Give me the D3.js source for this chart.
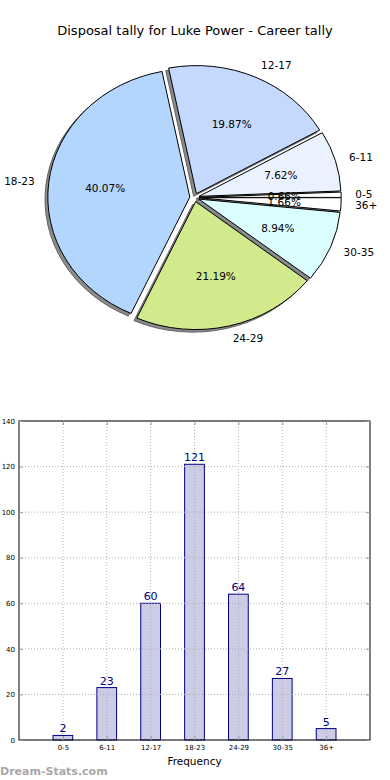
<!DOCTYPE html>
<html><head><meta charset="utf-8">
<script src="https://cdn.jsdelivr.net/npm/d3@7"></script>
<style>body{margin:0;background:#fff}svg{display:block;font-family:"DejaVu Sans",sans-serif}</style>
</head><body><svg id="c" width="390" height="780"></svg>
<script>
const categories=["0-5","6-11","12-17","18-23","24-29","30-35","36+"];
const frequencies=[2,23,60,121,64,27,5];
const sliceColors=["#ffffff","#eaf1ff","#c5d9ff","#b3d6ff","#d0ea8c","#dbffff","#ffffff"];
const yTicks=[0,20,40,60,80,100,120,140];
const title="Disposal tally for Luke Power - Career tally";
const xLabel="Frequency";
const watermark="Dream-Stats.com";

const svg=d3.select("#c");
const total=d3.sum(frequencies);
const data=categories.map((c,i)=>({cat:c,v:frequencies[i],color:sliceColors[i]}));

// Title
svg.append("text").attr("x",195).attr("y",30).attr("text-anchor","middle")
  .attr("dominant-baseline","central").attr("font-size",13).attr("fill","#000").text(title);

// Pie (elliptical, as in the reference)
const cx=194.5, cy=197.5, rx=142, ry=128, explode=0.033;
const pie=d3.pie().sort(null).value(d=>d.v).startAngle(Math.PI/2).endAngle(Math.PI/2-2*Math.PI);
const arcs=pie(data);
const arc=d3.arc().innerRadius(0).outerRadius(1);
const mid=d=>(d.startAngle+d.endAngle)/2;
const gp=svg.append("g");
// shadows
gp.selectAll("path.sh").data(arcs).enter().append("path").attr("class","sh")
  .attr("d",arc)
  .attr("transform",d=>{const a=mid(d);return `translate(${cx+explode*rx*Math.sin(a)-0.02*rx},${cy-explode*ry*Math.cos(a)+0.02*ry}) scale(${rx},${ry})`;})
  .attr("fill","#8a8a8a").attr("stroke","#666").attr("stroke-width",1)
  .attr("vector-effect","non-scaling-stroke");
// wedges
gp.selectAll("path.w").data(arcs).enter().append("path").attr("class","w")
  .attr("d",arc)
  .attr("transform",d=>{const a=mid(d);return `translate(${cx+explode*rx*Math.sin(a)},${cy-explode*ry*Math.cos(a)}) scale(${rx},${ry})`;})
  .attr("fill",d=>d.data.color).attr("stroke","#000").attr("stroke-width",1)
  .attr("vector-effect","non-scaling-stroke");
// labels
gp.selectAll("text.lab").data(arcs).enter().append("text").attr("class","lab")
  .attr("x",d=>cx+(explode+1.1)*rx*Math.sin(mid(d)))
  .attr("y",d=>cy-(explode+1.1)*ry*Math.cos(mid(d)))
  .attr("text-anchor",d=>Math.sin(mid(d))>0?"start":"end")
  .attr("dominant-baseline","central").attr("font-size",10.5).attr("fill","#000")
  .text(d=>d.data.cat);
const pf=d3.format(".2f");
gp.selectAll("text.pct").data(arcs).enter().append("text").attr("class","pct")
  .attr("x",d=>cx+(explode+0.6)*rx*Math.sin(mid(d)))
  .attr("y",d=>cy-(explode+0.6)*ry*Math.cos(mid(d)))
  .attr("text-anchor","middle")
  .attr("dominant-baseline","central").attr("font-size",10.5).attr("fill","#000")
  .text(d=>pf(d.data.v/total*100)+"%");

// Bar chart
const L=19,R=370,T=421,B=740;
const x=d3.scaleLinear().domain([-1,7]).range([L,R]);
const y=d3.scaleLinear().domain([0,140]).range([B,T]);
const idx=categories.map((c,i)=>i);
const gb=svg.append("g");
// bars
const bw=0.45;
gb.selectAll("rect.bar").data(data).enter().append("rect")
  .attr("x",(d,i)=>x(i-bw/2)).attr("width",x(bw)-x(0))
  .attr("y",d=>y(d.v)).attr("height",d=>y(0)-y(d.v))
  .attr("fill","#000080").attr("fill-opacity",0.2)
  .attr("stroke","#000080").attr("stroke-width",1);
// grid (drawn over bars, as in the reference)
gb.selectAll("line.gy").data(yTicks).enter().append("line")
  .attr("x1",L).attr("x2",R).attr("y1",d=>y(d)).attr("y2",d=>y(d))
  .attr("stroke","#b0b0b0").attr("stroke-dasharray","1,2");
gb.selectAll("line.gx").data(idx).enter().append("line")
  .attr("y1",T).attr("y2",B).attr("x1",d=>x(d)).attr("x2",d=>x(d))
  .attr("stroke","#b0b0b0").attr("stroke-dasharray","1,2");
gb.selectAll("text.val").data(data).enter().append("text")
  .attr("x",(d,i)=>x(i)).attr("y",d=>y(d.v)-3)
  .attr("text-anchor","middle").attr("font-size",11).attr("fill","#000080")
  .text(d=>d.v);
// axes
const ax=svg.append("g");
ax.append("g").attr("transform",`translate(${L},0)`)
  .call(d3.axisLeft(y).tickValues(yTicks).tickSize(-4).tickPadding(4).tickFormat(d3.format("d")));
ax.append("g").attr("transform",`translate(${R},0)`)
  .call(d3.axisRight(y).tickValues(yTicks).tickSize(-4).tickFormat(""));
ax.append("g").attr("transform",`translate(0,${B})`)
  .call(d3.axisBottom(x).tickValues(idx).tickSize(-4).tickPadding(5).tickFormat(i=>categories[i]));
ax.append("g").attr("transform",`translate(0,${T})`)
  .call(d3.axisTop(x).tickValues(idx).tickSize(-4).tickFormat(""));
ax.selectAll("g").attr("font-size",7).attr("font-family","DejaVu Sans, sans-serif");
ax.selectAll(".domain").remove();
ax.selectAll(".tick line").attr("stroke","#999");
ax.selectAll(".tick text").attr("fill","#000");
gb.append("rect").attr("x",L).attr("y",T).attr("width",R-L).attr("height",B-T)
  .attr("fill","none").attr("stroke","#000").attr("stroke-width",1);
svg.append("text").attr("x",194.5).attr("y",761).attr("text-anchor","middle")
  .attr("dominant-baseline","central").attr("font-size",10.5).attr("fill","#000").text(xLabel);
svg.append("text").attr("x",0).attr("y",771).attr("dominant-baseline","central")
  .attr("font-size",11).attr("font-weight","bold").attr("fill","#a8a8a8").text(watermark);
</script></body></html>
